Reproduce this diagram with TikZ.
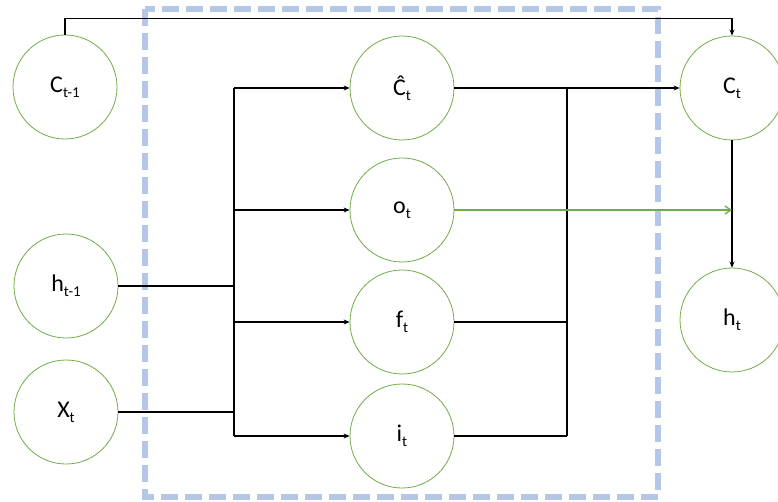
\documentclass[tikz,border=0pt]{standalone}
\usepackage{fontspec}
\setmainfont{Carlito}
\usetikzlibrary{arrows.meta}
\definecolor{cgreen}{HTML}{70AD47}
\definecolor{cblue}{HTML}{B4C7E7}
\newcommand\lowsub[1]{\raisebox{-0.45ex}{\fontsize{15}{15}\selectfont #1}}
\begin{document}
\begin{tikzpicture}[x=1pt,y=-1pt,
  unit/.style={circle,draw=cgreen,line width=0.8pt,minimum size=104pt,inner sep=0pt,font=\fontsize{24}{24}\selectfont},
  conn/.style={draw=black,line width=1.3pt},
  arr/.style={conn,-{Stealth[length=6pt,width=5pt]}},
  garr/.style={draw=cgreen,line width=1.3pt,-{Straight Barb[length=6pt,width=8pt]}}]
\useasboundingbox (0,0) rectangle (778,502);
\draw[cblue,line width=5.5pt,dash pattern=on 17pt off 7pt] (145,9) rectangle (658,497);
\node[unit] (cprev) at (65,87) {C\lowsub{t-1}};
\node[unit] (hprev) at (66,286) {h\lowsub{t-1}};
\node[unit] (xt) at (66,412) {X\lowsub{t}};
\node[unit] (chat) at (402,88) {Ĉ\lowsub{t}};
\node[unit] (ot) at (402,210) {o\lowsub{t}};
\node[unit] (ft) at (402,322) {f\lowsub{t}};
\node[unit] (it) at (402,436) {i\lowsub{t}};
\node[unit] (ct) at (732,88) {C\lowsub{t}};
\node[unit] (ht) at (732,320) {h\lowsub{t}};
\coordinate (lb) at (234,0);
\coordinate (rb) at (567,0);
% left bus
\draw[conn] (hprev.east) -- (hprev.east -| lb);
\draw[conn] (xt.east) -- (xt.east -| lb);
\draw[conn] (chat.west -| lb) -- (it.west -| lb);
\draw[arr] (chat.west -| lb) -- (chat.west);
\draw[arr] (ot.west -| lb) -- (ot.west);
\draw[arr] (ft.west -| lb) -- (ft.west);
\draw[arr] (it.west -| lb) -- (it.west);
% right bus
\draw[conn] (chat.east -| rb) -- (it.east -| rb);
\draw[arr] (chat.east) -- (ct.west);
\draw[conn] (ft.east) -- (ft.east -| rb);
\draw[conn] (it.east) -- (it.east -| rb);
% top
\draw[arr] (cprev.north) -- ++(0,-16) -| (ct.north);
% output
\draw[arr] (ct.south) -- (ht.north);
\draw[garr] (ot.east) -- (ot.east -| ct.south);
\end{tikzpicture}
\end{document}
